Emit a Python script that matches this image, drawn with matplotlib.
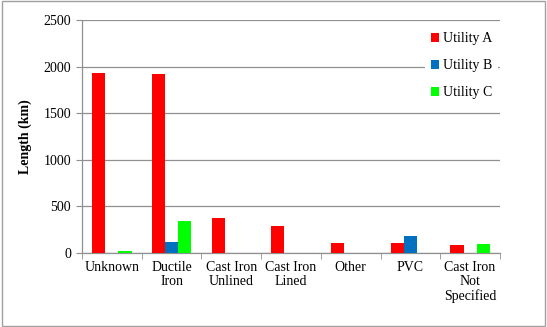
import matplotlib
matplotlib.use("Agg")
import matplotlib.pyplot as plt
import numpy as np
from matplotlib.patches import Rectangle

categories = ["Unknown", "Ductile\nIron", "Cast Iron\nUnlined", "Cast Iron\nLined", "Other", "PVC", "Cast Iron\nNot\nSpecified"]
utility_a = [1934, 1920, 372, 290, 107, 104, 82]
utility_b = [0, 118, 0, 0, 0, 186, 3]
utility_c = [18, 340, 0, 0, 4, 0, 97]
series_names = ["Utility A", "Utility B", "Utility C"]
colors = ["#ff0000", "#0070c0", "#00ff00"]
yticks = [0, 500, 1000, 1500, 2000, 2500]

plt.rcParams['font.family'] = ['Liberation Serif', 'DejaVu Serif']

fig = plt.figure(figsize=(5.47, 3.27), dpi=100)
ax = fig.add_axes([0.150, 0.226, 0.764, 0.713])

x = np.arange(len(categories))
w = 0.22
for i, (vals, name, c) in enumerate(zip([utility_a, utility_b, utility_c], series_names, colors)):
    ax.bar(x + (i - 1) * w, vals, w, color=c, label=name, zorder=3)

ax.set_xlim(-0.5, len(categories) - 0.5)
ax.set_ylim(0, 2500)
ax.set_yticks(yticks)
ax.set_yticklabels([str(t) for t in yticks], fontsize=10)
ax.yaxis.grid(True, color='#909090', linewidth=0.9, zorder=0)
ax.set_xticks(x)
ax.set_xticklabels(categories, fontsize=10, linespacing=1.1)
ax.tick_params(axis='x', length=0, pad=6)
ax.set_xticks(np.arange(len(categories) + 1) - 0.5, minor=True)
ax.tick_params(axis='x', which='minor', length=4, color='#909090', direction='out')
ax.tick_params(axis='y', length=4, color='#909090', direction='out', pad=4)
for s in ['top', 'right']:
    ax.spines[s].set_visible(False)
for s in ['left', 'bottom']:
    ax.spines[s].set_color('#909090')
    ax.spines[s].set_linewidth(0.9)
ax.set_ylabel("Length (km)", fontsize=10, fontweight='bold', labelpad=8)

leg = ax.legend(loc='upper right', bbox_to_anchor=(1.012, 1.0), fontsize=10, frameon=True,
                handlelength=0.6, handleheight=0.6, handletextpad=0.3, labelspacing=1.0,
                borderpad=0.4, fancybox=False, edgecolor='none', facecolor='white', framealpha=1)
leg.set_zorder(5)

fig.patches.append(Rectangle((0.003, 0.003), 0.994, 0.994, transform=fig.transFigure,
                             fill=False, edgecolor='#a0a0a0', linewidth=1))
fig.savefig("out.png", dpi=100)
